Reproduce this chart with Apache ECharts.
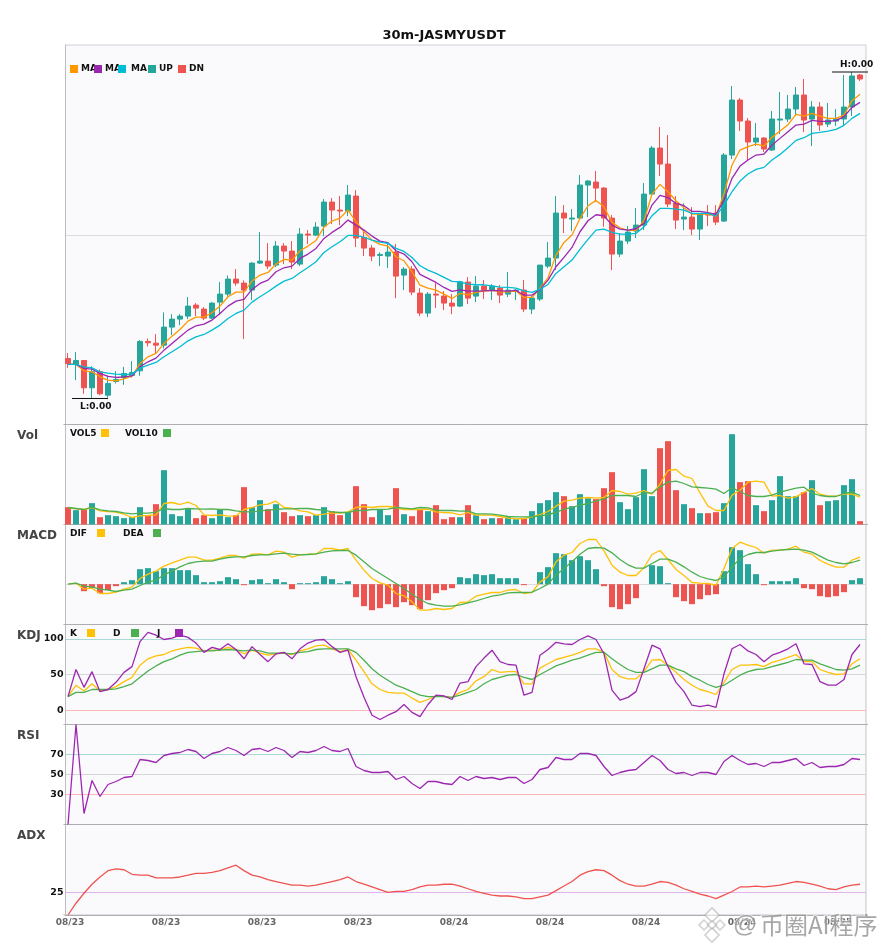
<!DOCTYPE html>
<html><head><meta charset="utf-8">
<script src="https://cdn.jsdelivr.net/npm/echarts@6/dist/echarts.min.js"></script>
<style>html,body{margin:0;padding:0;background:#fff}#c{width:885px;height:950px}</style>
</head><body><div id="c"></div>
<script>
const dates=[...Array(48).fill('08/23'),...Array(48).fill('08/24'),...Array(4).fill('08/25')];
const opens=[198,180,192,110,158,88,129,141,147,161,249,244,238,292,316,325,358,346,319,367,391,436,424,403,484,490,478,535,520,481,571,568,595,667,643,640,685,561,529,507,505,517,448,466,394,334,391,385,364,355,427,385,415,403,409,391,400,403,346,376,475,499,634,616,619,718,727,709,619,511,550,580,598,691,829,781,664,616,622,586,631,634,610,808,973,910,847,859,823,913,916,946,988,916,952,901,910,916,952,1048];
const closes=[183,192,110,158,92,123,135,153,156,249,245,238,292,316,325,355,349,319,364,391,436,424,403,484,490,475,535,520,487,571,568,592,667,643,640,688,559,529,505,510,517,445,466,397,334,391,388,364,355,428,379,415,403,415,388,403,403,346,379,478,499,634,619,619,718,730,709,619,511,550,577,598,691,829,781,661,613,622,586,631,628,607,808,973,910,847,859,826,916,916,946,988,913,952,898,913,916,952,1045,1036];
const lows=[170,133,92,78,88,80,123,119,141,146,234,213,228,268,298,316,325,313,316,328,383,416,256,373,481,466,472,481,466,475,541,565,565,601,598,625,532,505,490,475,469,379,403,388,325,322,349,343,331,352,361,367,376,373,364,382,373,337,331,370,469,463,574,580,613,622,667,593,463,502,541,559,583,691,745,652,586,583,568,553,595,598,607,796,880,790,835,817,820,871,907,928,877,835,880,892,895,898,925,1030];
const highs=[214,217,192,175,165,147,160,173,190,253,258,271,336,331,331,382,364,352,367,427,447,466,432,487,577,544,550,544,550,589,583,607,676,679,685,718,703,583,538,516,544,541,472,475,409,397,424,400,391,431,442,445,433,421,418,457,406,433,385,478,547,685,658,646,748,733,760,712,628,574,595,649,724,835,892,868,685,663,652,634,658,658,814,1015,979,919,904,862,940,997,988,1012,1036,970,967,964,946,1048,1057,1051];
const ma5=[180,180,161,158,143,133,131,137,145,183,203,213,243,265,285,310,322,322,335,355,383,397,397,430,448,456,481,495,493,521,535,552,592,610,619,643,608,578,553,540,535,503,491,458,418,409,403,391,378,393,389,396,400,402,398,398,400,381,381,408,440,508,546,568,618,656,672,653,606,590,582,582,611,691,720,698,671,650,631,631,631,625,693,778,823,833,841,835,861,880,899,930,925,933,925,918,918,928,971,990];
const ma10=[180,180,168,166,153,144,141,143,146,173,188,199,223,243,263,283,296,301,313,333,355,370,375,405,423,433,458,470,475,498,511,528,558,576,591,613,598,583,565,550,545,521,511,488,450,438,426,411,399,404,400,400,401,402,401,400,402,388,388,405,433,473,501,531,578,611,629,626,598,586,583,587,603,658,687,680,663,656,639,639,635,630,673,738,775,793,808,811,838,858,878,898,901,912,909,909,911,923,951,966];
const ma20=[180,180,173,170,158,154,151,150,151,169,178,186,203,218,233,251,263,270,283,298,318,333,343,367,383,398,415,430,438,455,471,488,516,533,548,567,567,561,553,547,543,528,519,501,476,463,453,441,429,428,421,419,419,416,412,411,409,401,396,406,420,453,473,493,525,555,583,586,576,571,571,573,593,626,648,648,646,643,633,633,633,625,658,698,730,751,765,771,793,810,830,852,860,873,876,880,885,897,918,933];
const volume=[52,43,46,64,22,28,25,19,22,52,28,61,163,31,25,49,19,28,19,46,22,28,112,52,73,46,61,37,25,28,25,28,52,40,28,37,115,61,22,46,28,109,31,25,46,40,58,16,22,22,58,28,16,19,19,22,16,18,40,64,73,97,85,55,91,79,76,109,157,67,46,82,166,85,229,250,103,61,49,34,34,37,64,271,127,130,58,40,73,145,85,85,97,133,58,70,73,118,136,10];
const vol5=[51,47,45,51,41,39,37,31,21,26,27,29,63,66,60,67,57,29,27,29,25,26,45,51,59,61,70,51,49,41,38,28,31,35,34,38,51,54,51,54,54,51,45,45,45,46,38,36,35,29,36,28,28,28,24,19,17,18,23,30,39,55,70,73,79,81,79,81,102,99,91,94,102,91,121,162,165,145,138,95,55,42,42,88,103,127,130,127,85,87,79,83,97,108,91,85,85,91,91,82];
const vol10=[51,48,45,52,44,41,39,35,32,34,34,37,48,45,45,48,47,46,47,45,45,41,38,38,41,43,45,47,47,48,48,45,43,38,36,36,42,42,45,45,46,51,49,47,51,50,43,42,42,40,41,32,32,31,28,24,23,23,23,26,30,36,46,51,58,63,70,77,87,87,87,84,96,94,113,127,130,123,113,111,109,106,93,110,99,87,84,84,88,97,103,109,112,94,87,84,84,93,97,87];
const macdHist=[0,0,-21,-12,-27,-18,-6,6,12,45,48,39,48,48,42,42,27,6,6,9,21,15,-3,12,15,3,15,6,-15,3,3,6,24,15,3,9,-39,-66,-78,-72,-60,-69,-54,-63,-75,-48,-27,-18,-12,21,18,30,27,30,18,18,18,-3,0,36,51,93,90,72,84,72,45,-6,-69,-75,-60,-42,0,57,54,3,-39,-51,-60,-45,-33,-30,39,111,102,60,30,-3,9,9,9,18,-12,-15,-36,-39,-36,-24,12,18];
const dif=[0,3,-15,-12,-28,-28,-24,-15,-9,17,30,39,54,64,72,81,81,72,72,78,86,86,78,90,91,88,99,96,81,88,90,90,107,107,102,107,72,42,17,4,-3,-28,-35,-53,-78,-78,-73,-76,-73,-55,-53,-36,-30,-25,-25,-18,-16,-28,-25,7,22,67,87,95,122,134,134,100,57,36,26,26,50,89,101,74,44,26,5,3,2,-3,47,107,126,117,110,93,102,102,105,114,96,90,71,60,51,51,72,81];
const dea=[0,3,-6,-8,-15,-18,-22,-18,-15,-4,6,12,28,39,52,62,67,69,69,75,80,82,82,86,88,88,91,93,90,88,89,91,96,100,101,101,87,67,47,32,17,2,-13,-30,-46,-58,-63,-66,-66,-62,-56,-50,-43,-36,-32,-26,-25,-25,-24,-13,0,27,47,67,90,107,110,108,94,74,58,48,48,62,75,75,66,52,36,23,16,11,22,51,77,89,95,95,99,102,104,105,102,96,84,72,65,61,65,72];
const kdjK=[19,35,27,37,27,29,33,40,46,63,72,76,78,83,86,88,87,83,84,84,88,85,79,84,80,77,79,80,78,83,86,90,91,86,82,85,70,54,37,29,25,24,24,17,11,15,20,19,18,25,29,41,47,57,53,54,54,37,37,59,65,71,74,77,81,86,86,81,57,47,44,44,54,70,71,63,53,43,35,29,26,22,39,57,63,63,64,61,67,70,74,78,68,68,57,53,50,51,65,72];
const kdjD=[19,25,25,29,29,29,30,33,37,46,55,62,68,72,77,81,82,83,83,84,85,84,83,84,83,80,80,80,79,81,82,85,86,86,86,86,81,70,58,49,42,35,31,26,21,19,19,19,18,21,25,29,37,43,46,49,50,46,43,50,56,62,66,70,73,77,81,81,72,64,57,53,53,58,63,63,58,54,47,42,36,32,35,42,49,54,57,58,61,64,67,71,70,70,65,61,57,56,58,63];
const kdjJ=[19,57,32,54,26,29,39,53,61,96,109,105,99,101,105,102,94,81,88,85,93,85,72,89,78,68,79,81,72,86,94,98,99,89,81,84,47,18,-7,-13,-7,-2,8,-3,-9,8,21,20,15,38,40,61,73,84,68,64,63,21,25,77,85,95,93,92,99,104,99,79,28,14,18,26,58,91,86,61,39,26,7,5,7,4,51,86,92,83,78,68,77,81,86,93,65,64,40,35,35,43,78,92];
const rsi=[0,100,11,44,28,40,43,47,48,65,64,62,69,71,72,75,73,66,71,73,77,74,69,75,76,73,77,74,67,73,72,74,78,74,73,76,58,54,52,52,53,45,48,41,36,43,43,41,40,48,44,48,46,47,45,47,47,41,45,55,57,67,65,65,71,71,69,58,49,52,54,55,62,69,64,55,51,52,49,52,52,50,63,69,64,60,61,58,62,62,64,66,59,62,57,58,58,60,66,65];
const adx=[0,13,24,34,42,49,51,50,45,44,44,41,41,41,42,44,46,46,47,49,52,55,49,44,42,39,37,35,33,33,32,33,35,37,39,42,37,34,31,28,25,26,26,28,31,33,33,34,34,32,29,26,24,22,21,21,20,18,18,20,22,27,32,37,44,48,50,49,44,38,34,32,32,34,37,36,33,29,26,23,21,18,22,26,31,31,32,31,32,33,35,37,36,34,32,29,28,31,33,34];

const UP='#26A69A',DN='#EF5350',ORANGE='#FF9800',PURPLE='#9C27B0',CYAN='#00BCD4',YELLOW='#FFC107',GREEN='#4CAF50';
const FONT='"DejaVu Sans"';
const tops=[45,424.5,524.5,624.5,724.5,824.5], hs=[379.5,100,100,100,100,90.5];
const ranges=[[0,1138],[0,300],[-121,179],[-20,120],[0,100],[0,100]];
const guides=[[569],[],[0],[0,50,100],[30,50,70],[25]];
const guideColors=[['#dcdce0'],['#dcdce0'],['#dcdce0'],['#f9b9b9','#d6d6da','#a9d9d5'],['#f9b9b9','#d6d6da','#a9d9d5'],['#e2b4ec']];
const labelled=[false,false,false,true,true,true];
const n=tops.length, grids=[],xAxes=[],yAxes=[];
for(let p=0;p<n;p++){
  grids.push({left:64,width:800,top:tops[p],height:hs[p],show:false});
  xAxes.push({type:'category',gridIndex:p,data:dates,boundaryGap:true,axisLine:{show:false},axisTick:{show:false},splitLine:{show:false},
    axisLabel:{show:p===n-1,interval:11,margin:3,color:'#666',fontFamily:FONT,fontWeight:'bold',fontSize:9,padding:[0,0,0,4]}});
  yAxes.push({type:'value',gridIndex:p,min:ranges[p][0],max:ranges[p][1],show:false,splitLine:{show:false}});
}
for(let p=0;p<n;p++){
  grids.push({left:65.5,width:800.5,top:tops[p],height:hs[p],show:true,backgroundColor:'#fafafc',borderColor:p===0?'#cfcfd6':'#c4c4cb',borderWidth:1,z:-1});
  xAxes.push({type:'value',gridIndex:n+p,min:0,max:1,axisLine:{show:true,onZero:false,lineStyle:{color:'#adadb2',width:1}},axisTick:{show:false},axisLabel:{show:false},splitLine:{show:false}});
  yAxes.push({type:'value',gridIndex:n+p,min:ranges[p][0],max:ranges[p][1],axisLine:{show:true,lineStyle:{color:'#bcbcc2',width:1}},
    axisTick:{show:false,customValues:guides[p]},
    axisLabel:{show:labelled[p],customValues:guides[p],margin:2,padding:[2,0,0,0],color:'#111',fontFamily:FONT,fontWeight:'bold',fontSize:9.5},
    splitLine:{show:guides[p].length>0,lineStyle:{color:guideColors[p],width:1}}});
}
const line=(name,data,color,g)=>({type:'line',name,data,xAxisIndex:g,yAxisIndex:g,showSymbol:false,silent:true,lineStyle:{color,width:1.3},itemStyle:{color},z:4});
const isUp=i=>closes[i]>=opens[i];
const series=[
 {type:'candlestick',name:'KLine',xAxisIndex:0,yAxisIndex:0,barWidth:5,silent:true,
  data:opens.map((o,i)=>[o,closes[i],lows[i],highs[i]]),
  itemStyle:{color:UP,color0:DN,borderColor:UP,borderColor0:DN,borderWidth:1}},
 line('MA5',ma5,ORANGE,0),line('MA10',ma10,PURPLE,0),line('MA20',ma20,CYAN,0),
 {type:'bar',name:'Vol',xAxisIndex:1,yAxisIndex:1,barWidth:6,silent:true,data:volume.map((v,i)=>({value:v,itemStyle:{color:isUp(i)?UP:DN}}))},
 line('VOL5',vol5,YELLOW,1),line('VOL10',vol10,GREEN,1),
 {type:'bar',name:'MACD',xAxisIndex:2,yAxisIndex:2,barWidth:6,silent:true,data:macdHist.map(v=>({value:v,itemStyle:{color:v>=0?UP:DN}}))},
 line('DIF',dif,YELLOW,2),line('DEA',dea,GREEN,2),
 line('K',kdjK,YELLOW,3),line('D',kdjD,GREEN,3),line('J',kdjJ,PURPLE,3),
 line('RSI',rsi,PURPLE,4),
 line('ADX',adx,DN,5)
];
const text=(x,y,t,o={})=>({type:'text',x,y,z:50,silent:true,style:{text:t,fontFamily:FONT,fontWeight:'bold',fontSize:9,fill:'#111',textVerticalAlign:'middle',...o}});
const sw=(x,y,c)=>({type:'rect',x,y,z:51,silent:true,shape:{width:8,height:8},style:{fill:c}});
const gfx=[];
[[81,70,ORANGE,'MA'],[105,94,PURPLE,'MA'],[131,118,CYAN,'MA'],[159,148,UP,'UP'],[189,178,DN,'DN']].forEach(([tx,sx,c,t])=>{gfx.push(text(tx,69,t),sw(sx,65,c));});
[[70,101,YELLOW,'VOL5'],[125,163,GREEN,'VOL10']].forEach(([tx,sx,c,t])=>{gfx.push(text(tx,433.5,t),sw(sx,429,c));});
[[70,97,YELLOW,'DIF'],[123,153,GREEN,'DEA']].forEach(([tx,sx,c,t])=>{gfx.push(text(tx,533.5,t),sw(sx,529,c));});
[[70,87,YELLOW,'K'],[113,131,GREEN,'D'],[157,175,PURPLE,'J']].forEach(([tx,sx,c,t])=>{gfx.push(text(tx,633.5,t),sw(sx,629,c));});
[['Vol',436],['MACD',536],['KDJ',636],['RSI',736],['ADX',836]].forEach(([t,y])=>gfx.push(text(17,y,t,{fontSize:12,fill:'#444'})));
// little corner ticks at the panel boundaries
[...tops.slice(1),915].forEach(y=>{
  gfx.push({type:'line',z:3,silent:true,shape:{x1:63.5,y1:y,x2:65.5,y2:y},style:{stroke:'#adadb2',lineWidth:1}});
  gfx.push({type:'line',z:3,silent:true,shape:{x1:866,y1:y,x2:868,y2:y},style:{stroke:'#adadb2',lineWidth:1}});
});
// watermark
gfx.push(text(733,925,'@',{fontFamily:'"Liberation Sans"',fontWeight:'normal',fontSize:24,fill:'rgba(130,130,130,.7)',stroke:'rgba(255,255,255,.6)',lineWidth:2}));
gfx.push(text(760,925,'币圈AI程序',{fontFamily:'"Noto Sans CJK SC"',fontWeight:'normal',fontSize:24,fill:'rgba(130,130,130,.7)',stroke:'rgba(255,255,255,.6)',lineWidth:2}));
[[712,915,5],[704,925,3.5],[720,925,3.5],[712,925,3],[712,935,5]].forEach(([x,y,r])=>gfx.push({type:'rect',x,y,rotation:Math.PI/4,z:50,silent:true,shape:{x:-r,y:-r,width:2*r,height:2*r},style:{fill:'rgba(255,255,255,.6)',stroke:'rgba(170,170,170,.55)',lineWidth:1.5}}));

const chart=echarts.init(document.getElementById('c'),null,{renderer:'canvas'});
chart.setOption({animation:false,backgroundColor:'#fff',
  title:{text:'30m-JASMYUSDT',left:439,top:24,textAlign:'center',textStyle:{fontFamily:FONT,fontWeight:'bold',fontSize:13,color:'#111'}},
  tooltip:{show:false},grid:grids,xAxis:xAxes,yAxis:yAxes,series,graphic:gfx});
const hi=Math.max(...highs), lo=Math.min(...lows);
const yHi=chart.convertToPixel({yAxisIndex:0},hi), yLo=chart.convertToPixel({yAxisIndex:0},lo);
const priceUnit=1e-6;
gfx.push({type:'line',z:50,silent:true,shape:{x1:832,y1:yHi,x2:868,y2:yHi},style:{stroke:'#111',lineWidth:1}});
gfx.push({type:'line',z:50,silent:true,shape:{x1:72,y1:yLo,x2:108,y2:yLo},style:{stroke:'#111',lineWidth:1}});
gfx.push(text(840,yHi-7.5,'H:'+(hi*priceUnit).toFixed(2)));
gfx.push(text(80,yLo+8.5,'L:'+(lo*priceUnit).toFixed(2)));
chart.setOption({graphic:gfx});
</script></body></html>
